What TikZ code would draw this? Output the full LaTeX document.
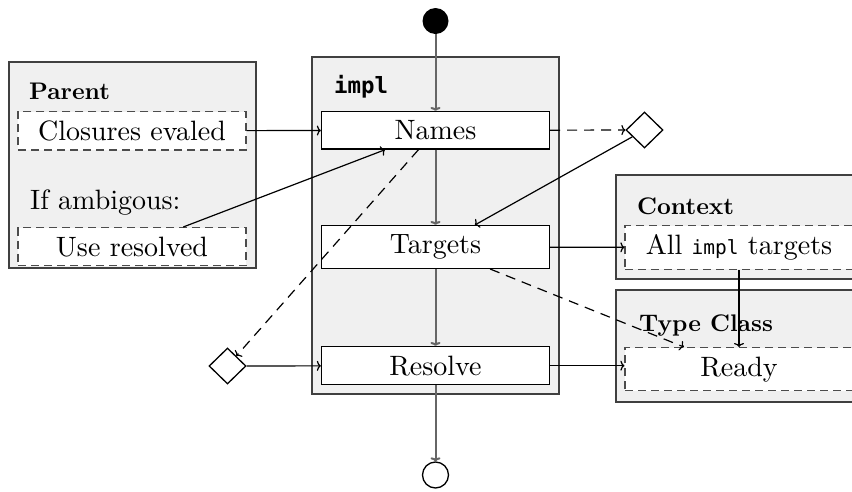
\documentclass[tikz,border=0pt]{standalone}
\usepackage{fontspec}
\setmainfont{lmroman10-regular.otf}[BoldFont=lmroman10-bold.otf, ItalicFont=lmroman10-italic.otf]
\newfontfamily\codefont{DejaVu Sans Mono}
\usetikzlibrary{arrows.meta,shapes.geometric}

\tikzset{
  body/.style={font=\fontsize{28}{34}\selectfont},
  header/.style={font=\fontsize{24}{28}\selectfont\bfseries, inner sep=0pt, anchor=base west},
  plain/.style={font=\fontsize{28}{34}\selectfont, inner sep=0pt, anchor=base west},
  container/.style={fill=black!6, draw=black!75, line width=1.3pt},
  stepbox/.style={body, draw=black, fill=white, line width=1.3pt, minimum width=228pt,
    inner xsep=4pt, inner ysep=9pt, anchor=north},
  slotbox/.style={body, draw=black!70, fill=white, line width=1.2pt,
    dash pattern=on 8pt off 5pt, minimum width=228pt, inner xsep=4pt, inner ysep=9pt, anchor=north},
  flow/.style={draw=black!60, line width=2pt, -{To[length=4pt,width=10pt]}},
  link/.style={draw=black, line width=1.2pt, -{To[length=4pt,width=10pt]}},
  dlink/.style={link, dash pattern=on 10pt off 7pt},
  choice/.style={diamond, draw=black, fill=white, line width=1.3pt, inner sep=0pt,
    minimum width=37pt, minimum height=36pt},
}
\newcommand{\codetext}[1]{{\codefont\fontsize{19.5}{24}\selectfont #1}}

\begin{document}
\begin{tikzpicture}[x=1pt, y=-1pt]
  \useasboundingbox (0,0) rectangle (852,491);
  \clip (0,0) rectangle (852,491);

  % swimlane containers
  \path[container] (9,62) rectangle (256,268);
  \path[container] (312,57) rectangle (559,394);
  \path[container] (616,175) rectangle (880,279);
  \path[container] (616,290) rectangle (880,402);

  % container headings
  \node[header] (hparent) at (29,99) {Parent};
  \node[header] (himpl) at (334,93) {\codefont\fontsize{22.4}{26}\selectfont\bfseries impl};
  \node[header] (hctx) at (637,214) {Context};
  \node[header] (htc) at (639,331) {Type Class};
  \node[plain] (ambig) at (30,209) {If ambigous:};

  % parent slots
  \node[slotbox] (closures) at (132,111) {Closures evaled};
  \node[slotbox] (useres) at (132,227) {Use resolved};

  % impl steps
  \node[stepbox] (names) at (435.5,111) {Names};
  \node[stepbox] (targets) at (435.5,225) {Targets};
  \node[stepbox] (resolve) at (435.5,346) {Resolve};

  % context and type class slots
  \node[slotbox] (alltargets) at (739,225) {All \codetext{impl} targets};
  \node[slotbox] (ready) at (739,347) {Ready};

  % start, end and decision points
  \node[circle, fill=black, inner sep=0pt, minimum size=26pt] (start) at (435.5,21) {};
  \node[circle, draw=black, fill=white, line width=1.3pt, inner sep=0pt, minimum size=26pt] (stop) at (435.5,475) {};
  \node[choice] (dright) at (644.5,130) {};
  \node[choice] (dleft) at (227.5,366) {};

  % main flow
  \draw[flow] (start) -- (names);
  \draw[flow] (names) -- (targets);
  \draw[flow] (targets) -- (resolve);
  \draw[flow] (resolve) -- (stop);

  % other connections
  \draw[link] (closures) -- (names);
  \draw[link] (useres) -- (names);
  \draw[dlink] (names) -- (dright);
  \draw[link] (dright) -- (targets);
  \draw[dlink] (names) -- (dleft);
  \draw[link] (dleft) -- (resolve);
  \draw[link] (targets) -- (alltargets);
  \draw[dlink] (targets) -- (ready);
  \draw[link] (alltargets) -- (ready);
  \draw[link] (resolve.east) -- (resolve.east -| ready.west);
\end{tikzpicture}
\end{document}
